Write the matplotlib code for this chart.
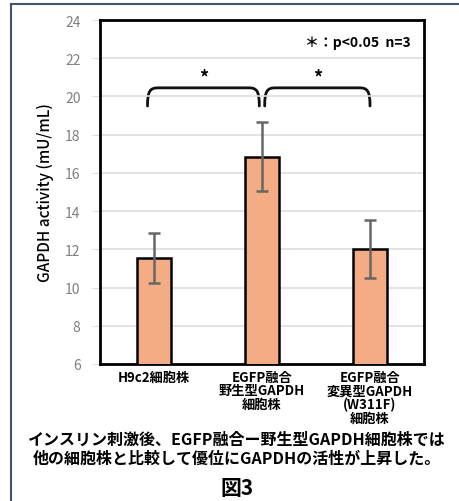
import matplotlib.pyplot as plt
from matplotlib.path import Path
from matplotlib.patches import PathPatch

plt.rcParams['font.family'] = ['Noto Sans CJK JP', 'DejaVu Sans']

# GAPDH activity per cell line (mean, SD)
labels = ['H9c2細胞株', 'EGFP融合\n野生型GAPDH\n細胞株', 'EGFP融合\n変異型GAPDH\n(W311F)\n細胞株']
activity = [11.55, 16.85, 12.02]
sd = [1.3, 1.8, 1.5]
yticks = [6, 8, 10, 12, 14, 16, 18, 20, 22, 24]
# significance brackets: (start category, end category)
brackets = [(0, 1), (1, 2)]
caption = 'インスリン刺激後、EGFP融合ー野生型GAPDH細胞株では\n他の細胞株と比較して優位にGAPDHの活性が上昇した。'


def brace(ax, x0, x1, y_top, y_low, r=0.1):
    h = y_top - y_low
    verts = [(x0, y_low), (x0, y_low + h * 0.85), (x0 + r * 0.25, y_top), (x0 + r, y_top),
             (x1 - r, y_top),
             (x1 - r * 0.25, y_top), (x1, y_low + h * 0.85), (x1, y_low)]
    codes = [Path.MOVETO, Path.CURVE4, Path.CURVE4, Path.CURVE4,
             Path.LINETO,
             Path.CURVE4, Path.CURVE4, Path.CURVE4]
    ax.add_patch(PathPatch(Path(verts, codes), fill=False, lw=2, color='#111111',
                           capstyle='round'))


fig = plt.figure(figsize=(4.59, 5.02), dpi=100)
ax = fig.add_axes([100 / 459, 1 - 365 / 502, 324 / 459, 344 / 502])

x = range(len(activity))
ax.bar(x, activity, width=0.32, color='#F4AC84', edgecolor='black', linewidth=1.8,
       yerr=sd, ecolor='#666666', error_kw=dict(elinewidth=1.8, capsize=4, capthick=1.8),
       zorder=3)

ax.set_xlim(-0.5, 2.5)
ax.set_ylim(6, 24)
ax.set_yticks(yticks)
ax.tick_params(axis='y', length=6, color='#dddddd', labelcolor='#808080', labelsize=10, pad=8)
ax.tick_params(axis='x', length=0, labelsize=9.5, pad=4)
ax.set_xticks(list(x))
ax.set_xticklabels(labels, fontweight='bold', linespacing=0.98)
ax.yaxis.grid(True, color='#dddddd', linewidth=1.2, zorder=0)
for s in ax.spines.values():
    s.set_linewidth(2)
ax.set_ylabel('GAPDH activity (mU/mL)', fontsize=11, fontweight='medium', labelpad=8)

# brackets with asterisks
gap = 0.025
for a, b in brackets:
    x0 = a - 0.06 if a == 0 else a + gap
    x1 = b - gap if b == 1 else b
    brace(ax, x0, x1, 20.45, 19.5)
    ax.text((x0 + x1) / 2, 21.0, '*', ha='center', va='center', fontsize=13, fontweight='bold')

ax.text(0.96, 0.955, '＊：p<0.05  n=3', transform=ax.transAxes, ha='right', va='top',
        fontsize=10, fontweight='bold')

fig.text(237 / 459, 1 - 432 / 502, caption, ha='center', va='top', fontsize=11.5,
         fontweight='bold', linespacing=1.25)
fig.text(237 / 459, 1 - 489 / 502, '図3', ha='center', va='center', fontsize=15,
         fontweight='bold')

# outer frame (left and top edges)
frame_color = '#44546A'
fig.add_artist(plt.Line2D([11 / 459, 11 / 459], [0, 1 - 5 / 502], color=frame_color, lw=1.5))
fig.add_artist(plt.Line2D([11 / 459, 1], [1 - 5 / 502, 1 - 5 / 502], color=frame_color, lw=1.5))

fig.savefig('out.png', dpi=100)
